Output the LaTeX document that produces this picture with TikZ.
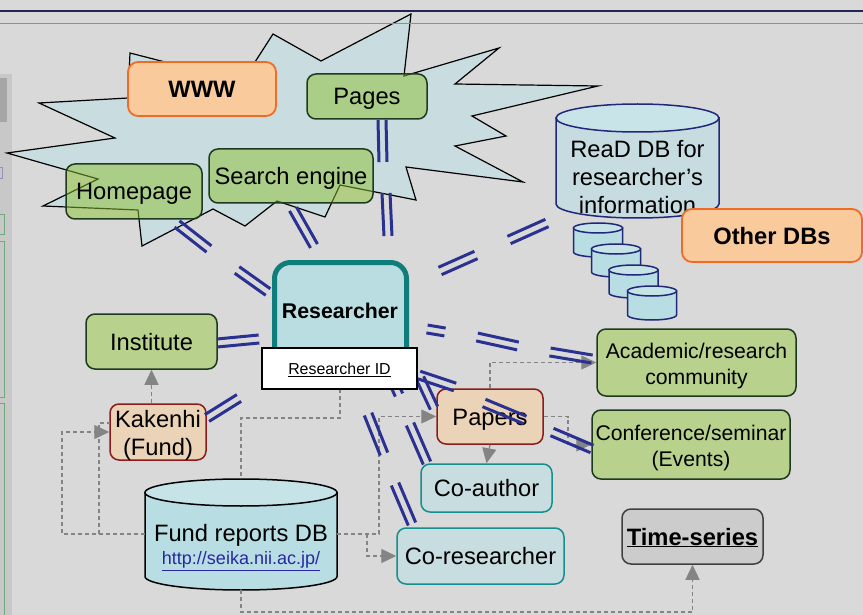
\documentclass[tikz,border=0pt]{standalone}
\usepackage{fontspec}
\setmainfont{Liberation Sans}
\usetikzlibrary{arrows.meta,calc}
\definecolor{bg}{RGB}{217,217,217}
\definecolor{sidebar}{RGB}{200,200,200}
\definecolor{topnavy}{RGB}{32,36,86}
\definecolor{topblue}{RGB}{58,170,224}
\definecolor{explfill}{RGB}{201,220,224}
\definecolor{gfill}{RGB}{176,207,123}
\definecolor{gtrans}{RGB}{141,194,48}
\definecolor{dkgreen}{RGB}{30,58,30}
\definecolor{wfill}{RGB}{249,203,156}
\definecolor{wdraw}{RGB}{240,108,36}
\definecolor{resfill}{RGB}{185,221,225}
\definecolor{resdraw}{RGB}{14,125,123}
\definecolor{pfill}{RGB}{235,211,184}
\definecolor{pdraw}{RGB}{140,28,28}
\definecolor{cfill}{RGB}{200,221,224}
\definecolor{cdraw}{RGB}{20,142,142}
\definecolor{cylfill}{RGB}{198,220,224}
\definecolor{cyltop}{RGB}{200,228,232}
\definecolor{cylnavy}{RGB}{35,39,122}
\definecolor{fundfill}{RGB}{184,221,226}
\definecolor{fundtop}{RGB}{198,228,232}
\definecolor{tfill}{RGB}{204,204,204}
\definecolor{tdraw}{RGB}{64,64,64}
\definecolor{dashgray}{RGB}{132,132,132}
\definecolor{dblnavy}{RGB}{43,49,145}
\definecolor{urlblue}{RGB}{40,40,160}
\definecolor{sgreen}{RGB}{110,170,125}
\newcommand\fmain{\fontsize{23.7}{28.3}\selectfont}
\newcommand\fmid{\fontsize{21.2}{26.7}\selectfont}
\newcommand\dseg[2]{%
  \draw[dblline] ($(#1)!4pt!90:(#2)$) -- ($(#2)!4pt!-90:(#1)$);
  \draw[dblline] ($(#1)!4pt!-90:(#2)$) -- ($(#2)!4pt!90:(#1)$);}
\newcommand\mycyl[7]{% cx, ytop centre, ybottom centre, rx, ry, body fill, draw
  \filldraw[fill=#6,draw=#7,line width=1.5pt] ({#1-#4},#2) -- ({#1-#4},#3)
    arc[start angle=180,end angle=0,x radius=#4,y radius=#5] -- ({#1+#4},#2) -- cycle;}
\begin{document}
\begin{tikzpicture}[x=1pt,y=-1pt,
  dblline/.style={draw=dblnavy,line width=3pt},
  capc/.style={text height=17pt,text depth=0pt},
  gbox/.style={draw=dkgreen,line width=1.5pt,fill=gfill,fill opacity=0.8,text opacity=1,rounded corners=9pt,inner sep=0pt,align=center,font=\fmain},
  wgbox/.style={gbox,fill=gtrans,fill opacity=0.5},
  obox/.style={draw=wdraw,line width=1.8pt,fill=wfill,rounded corners=10pt,inner sep=0pt,align=center,font=\fmain\bfseries,capc},
  pbox/.style={draw=pdraw,line width=1.5pt,fill=pfill,rounded corners=9pt,inner sep=0pt,align=center,font=\fmain},
  cbox/.style={draw=cdraw,line width=1.5pt,fill=cfill,rounded corners=9pt,inner sep=0pt,align=center,font=\fmain,capc},
  dline/.style={draw=dashgray,line width=1.3pt,dash pattern=on 4pt off 3pt},
  darrow/.style={dline,-{Triangle[length=15pt,width=14pt,fill=dashgray]}},
  ]
\useasboundingbox (0,0) rectangle (863,615);
\fill[bg] (0,0) rectangle (863,615);
% left sidebar
\fill[sidebar] (0,74) rectangle (12,615);
\fill[gray!70] (0,78) rectangle (7,122);
\draw[sgreen,line width=0.8pt] (-1,214) rectangle (4,234);
\draw[sgreen,line width=0.8pt] (-1,241) rectangle (4,397);
\draw[sgreen,line width=0.8pt] (-1,403) rectangle (4,617);
\draw[cylnavy!50,line width=0.8pt] (-1,167) rectangle (2,178);
% explosion
\filldraw[fill=explfill,draw=black,line width=1.2pt,line join=miter]
  (7,153) -- (115,138) -- (39,103) -- (128,98) -- (130,53) -- (165,62) -- (210,80) -- (255,62)
  -- (273,34) -- (321,61) -- (411,14) -- (404,76) -- (499,48) -- (455,84) -- (598,86)
  -- (472,116) -- (506,136) -- (455,146) -- (523,182) -- (406,167) -- (416,200) -- (340,185)
  -- (325,217) -- (277,201) -- (245,226) -- (213,209) -- (142,246) -- (138,210) -- (43,206)
  -- (98,179) -- cycle;
% top rules
\draw[topnavy,line width=1.6pt] (0,11) -- (863,11);
\draw[topblue,line width=1.6pt] (0,23.5) -- (863,23.5);
% WWW cluster
\node[obox,minimum width=148pt,minimum height=54pt] (www) at (202,89) {WWW};
\node[wgbox,capc,minimum width=120pt,minimum height=45pt] (pages) at (367,96.5) {Pages};
\node[wgbox,capc,minimum width=136pt,minimum height=55pt] (home) at (134,191.5) {Homepage};
\node[wgbox,capc,minimum width=164pt,minimum height=54pt] (search) at (291,176) {Search engine};
% ReaD DB
\mycyl{637.5}{118}{204}{81.5}{14}{cylfill}{cylnavy}
\filldraw[fill=cyltop,draw=cylnavy,line width=1.5pt] (637.5,118) ellipse [x radius=81.5,y radius=14];
\node[align=center,font=\fmain] (read) at (637.5,177) {ReaD DB for\\researcher’s\\information};
\mycyl{598}{228}{252}{24.5}{5}{fundfill}{cylnavy}
\filldraw[fill=fundtop,draw=cylnavy,line width=1.5pt] (598,228) ellipse [x radius=24.5,y radius=5];
\mycyl{616}{249}{272}{24.5}{5}{fundfill}{cylnavy}
\filldraw[fill=fundtop,draw=cylnavy,line width=1.5pt] (616,249) ellipse [x radius=24.5,y radius=5];
\mycyl{633.5}{270}{293}{24.5}{5}{fundfill}{cylnavy}
\filldraw[fill=fundtop,draw=cylnavy,line width=1.5pt] (633.5,270) ellipse [x radius=24.5,y radius=5];
\mycyl{652}{291}{315}{24.5}{5}{fundfill}{cylnavy}
\filldraw[fill=fundtop,draw=cylnavy,line width=1.5pt] (652,291) ellipse [x radius=24.5,y radius=5];
\node[obox,minimum width=180pt,minimum height=53pt] (other) at (772,235.5) {Other DBs};
% Researcher
\node[draw=resdraw,line width=5pt,fill=resfill,rounded corners=16pt,minimum width=132pt,minimum height=102pt,inner sep=0pt] (res) at (340.5,313.5) {};
\node[font=\fontsize{21.3}{24}\selectfont\bfseries,text height=15.3pt,text depth=0pt] (restxt) at (340,311) {Researcher};
% other boxes
\node[gbox,capc,minimum width=131pt,minimum height=55pt] (inst) at (151.5,341.5) {Institute};
\node[pbox,minimum width=96pt,minimum height=56pt] (kak) at (158,432) {};
\node[align=center,font=\fmain] (kaktxt) at (158,435.5) {Kakenhi\\(Fund)};
\node[pbox,capc,minimum width=106pt,minimum height=55pt] (pap) at (490,416.5) {Papers};
\node[cbox,minimum width=131pt,minimum height=48pt] (coauth) at (486.5,488) {Co-author};
\node[cbox,minimum width=167pt,minimum height=56pt] (cores) at (480.5,556) {Co-researcher};
\node[gbox,minimum width=199pt,minimum height=67pt] (acad) at (696.5,362.5) {};
\node[align=center,font=\fmid] (acadtxt) at (696.5,366) {Academic/research\\community};
\node[gbox,minimum width=198pt,minimum height=69pt] (conf) at (691,444.5) {};
\node[align=center,font=\fmid] (conftxt) at (691,448) {Conference/seminar\\(Events)};
\node[draw=tdraw,line width=1.5pt,fill=tfill,rounded corners=9pt,minimum width=141pt,minimum height=55pt,inner sep=0pt,font=\fmain\bfseries,capc] (time) at (692.5,536.5) {\underline{Time-series}};
% Fund reports DB
\mycyl{241}{492.5}{576.5}{96}{13.5}{fundfill}{black}
\filldraw[fill=fundtop,draw=black,line width=1.5pt] (241,492.5) ellipse [x radius=96,y radius=13.5];
\node[font=\fmain,capc] (fund) at (241,533) {Fund reports DB};
\node[font=\fontsize{18}{20}\selectfont,text=urlblue] (url) at (241,561) {\underline{http://seika.nii.ac.jp/}};
\coordinate (fundL) at (145,534);
\coordinate (fundR) at (337,534);
\coordinate (fundT) at (241,479);
\coordinate (fundB) at (241,590);
% dashed connectors
\draw[darrow] (kak.north -| inst.south) -- (inst.south);
\draw[darrow] (fundL) -- (62,534) |- (kak.west);
\draw[dline] (99,534) |- (110,423);
\draw[dline] (340,389) -- (340,418) -| (fundT);
\draw[darrow] (fundR) -- (379,534) |- (pap.west);
\draw[darrow] (367,534) |- (cores.west);
\draw[darrow] (pap.north) |- (acad.west);
\draw[darrow] (pap.east) -- (568,416.5) |- (conf.west);
\draw[darrow] (pap.south) -- (coauth.north);
\draw[darrow] (fundB) -- (241,612) -| (time.south);
% double-line links
\dseg{382,120}{383,162}
\dseg{386,193}{388,236}
\dseg{293,209}{314,246}
\dseg{177,224}{209,249}
\dseg{237,270}{268,292}
\dseg{217,343}{259,339}
\dseg{207,418}{239,398}
\dseg{440,271}{476,255}
\dseg{509,240}{547,223}
\dseg{427,329}{445,332}
\dseg{477,337}{518,346}
\dseg{550,352}{592,359}
\dseg{419,375}{455,387}
\dseg{484,403}{525,420}
\dseg{552,432}{592,449}
\dseg{420,378}{434,408}
\dseg{390,375}{399,395}
\dseg{410,424}{427,463}
\dseg{368,414}{384,454}
\dseg{395,484}{412,524}
% Researcher ID
\node[draw=black,line width=1.5pt,fill=white,minimum width=155pt,minimum height=41pt,inner sep=0pt,font=\fontsize{15.9}{18}\selectfont,text height=11.4pt,text depth=0pt] (rid) at (339.5,368.5) {\underline{Researcher ID}};
\end{tikzpicture}
\end{document}
